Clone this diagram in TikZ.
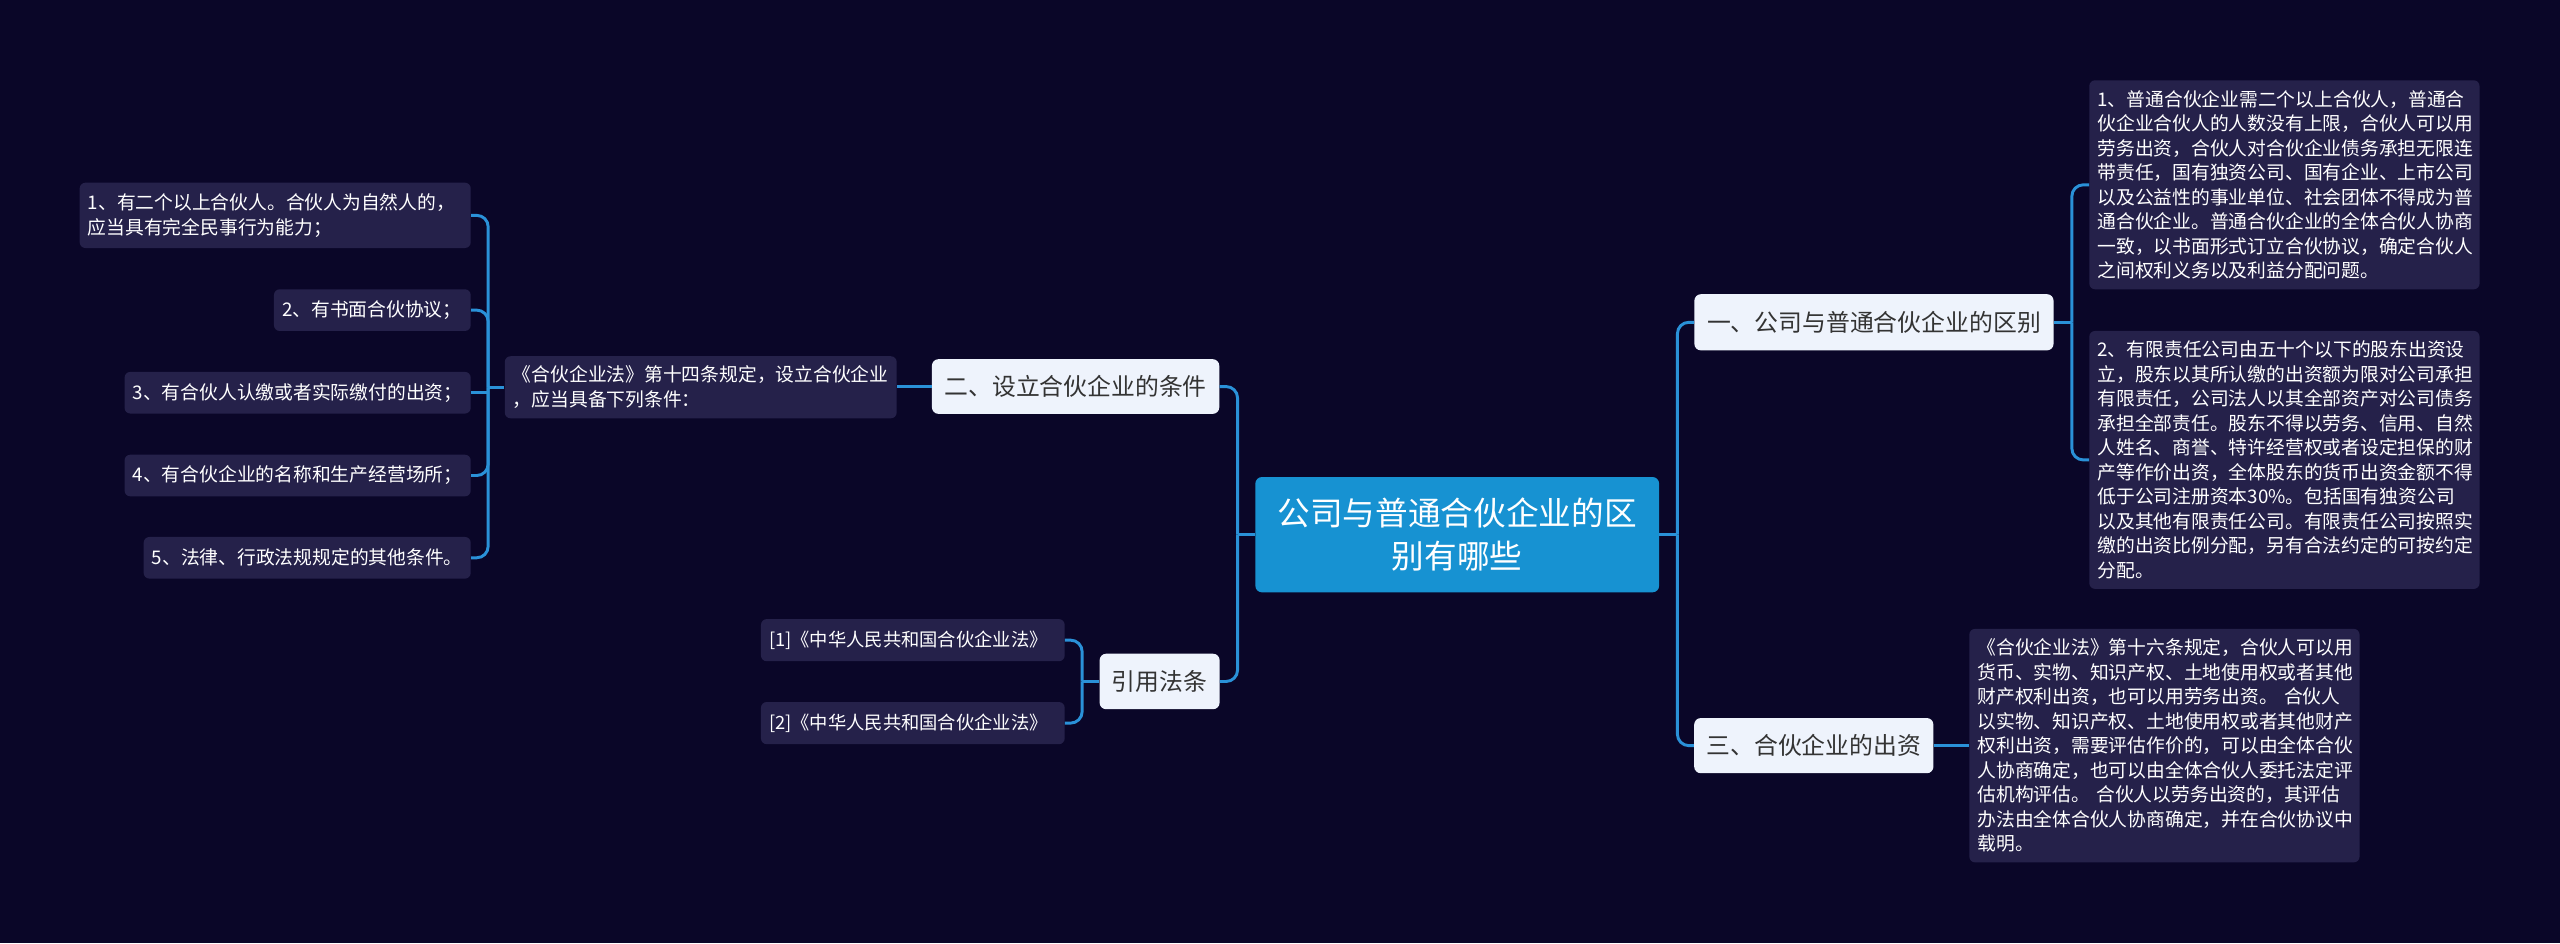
\documentclass[tikz,border=0pt]{standalone}
\usepackage{fontspec}
\setmainfont{Noto Sans CJK SC}
\definecolor{bg}{HTML}{0A0628}
\definecolor{leafc}{HTML}{25214A}
\definecolor{branchc}{HTML}{EEF3FC}
\definecolor{rootc}{HTML}{1792D2}
\definecolor{connc}{HTML}{2A91D8}
\definecolor{btext}{HTML}{333333}
\tikzset{
  leafbox/.style={fill=leafc, text=white, rounded corners=3.5pt, inner xsep=5pt, inner ysep=0pt,
    align=left, font=\fontsize{11.5}{15}\selectfont},
  branchbox/.style={fill=branchc, text=btext, rounded corners=4pt, inner xsep=7pt, inner ysep=0pt,
    align=center, font=\fontsize{14.6}{18}\selectfont},
  rootbox/.style={fill=rootc, text=white, rounded corners=4pt, inner xsep=12pt, inner ysep=0pt,
    align=center, font=\fontsize{20}{26}\selectfont},
  conn/.style={draw=connc, line width=1.8pt},
  elbow/.style={conn, rounded corners=7pt}
}
\begin{document}
\begin{tikzpicture}[x=1pt,y=-1pt]
\useasboundingbox (0,0) rectangle (1568,577.6);
\fill[bg] (0,0) rectangle (1568,577.6);

% root
\node[rootbox, anchor=north west, minimum width=247.3pt, minimum height=70.6pt, text width=223pt] (root) at (768.7,292)
  {公司与普通合伙企业的区\\别有哪些};

% branches
\node[branchbox, anchor=north west, minimum width=220pt, minimum height=34.4pt] (b1) at (1037.6,180) {一、公司与普通合伙企业的区别};
\node[branchbox, anchor=north west, minimum width=146.5pt, minimum height=33.8pt] (b3) at (1037.5,439.6) {三、合伙企业的出资};
\node[branchbox, anchor=north east, minimum width=176pt, minimum height=33.5pt] (b2) at (747,219.8) {二、设立合伙企业的条件};
\node[branchbox, anchor=north east, minimum width=73.5pt, minimum height=34pt] (cite) at (747.2,400.2) {引用法条};

% right leaves
\node[leafbox, anchor=north west, text width=229pt, minimum height=128pt] (r1) at (1279.5,49)
  {1、普通合伙企业需二个以上合伙人，普通合\\伙企业合伙人的人数没有上限，合伙人可以用\\劳务出资，合伙人对合伙企业债务承担无限连\\带责任，国有独资公司、国有企业、上市公司\\以及公益性的事业单位、社会团体不得成为普\\通合伙企业。普通合伙企业的全体合伙人协商\\一致，以书面形式订立合伙协议，确定合伙人\\之间权利义务以及利益分配问题。};
\node[leafbox, anchor=north west, text width=229pt, minimum height=158pt] (r2) at (1279.5,202.5)
  {2、有限责任公司由五十个以下的股东出资设\\立，股东以其所认缴的出资额为限对公司承担\\有限责任，公司法人以其全部资产对公司债务\\承担全部责任。股东不得以劳务、信用、自然\\人姓名、商誉、特许经营权或者设定担保的财\\产等作价出资，全体股东的货币出资金额不得\\低于公司注册资本30\%。包括国有独资公司\\以及其他有限责任公司。有限责任公司按照实\\缴的出资比例分配，另有合法约定的可按约定\\分配。};
\node[leafbox, anchor=north west, text width=229pt, minimum height=143pt] (r3) at (1206,385)
  {《合伙企业法》第十六条规定，合伙人可以用\\货币、实物、知识产权、土地使用权或者其他\\财产权利出资，也可以用劳务出资。 合伙人\\以实物、知识产权、土地使用权或者其他财产\\权利出资，需要评估作价的，可以由全体合伙\\人协商确定，也可以由全体合伙人委托法定评\\估机构评估。 合伙人以劳务出资的，其评估\\办法由全体合伙人协商确定，并在合伙协议中\\载明。};

% left leaves
\node[leafbox, anchor=north west, text width=230pt, minimum height=38pt] (k) at (309,218)
  {《合伙企业法》第十四条规定，设立合伙企业\\，应当具备下列条件：};
\node[leafbox, anchor=north east, text width=229.5pt, minimum height=40pt] (L1) at (288.5,111.7)
  {1、有二个以上合伙人。合伙人为自然人的，\\应当具有完全民事行为能力；};
\node[leafbox, anchor=north east, text width=110.5pt, minimum height=25.5pt] (L2) at (288.5,177)
  {2、有书面合伙协议；};
\node[leafbox, anchor=north east, text width=202pt, minimum height=25.5pt] (L3) at (288.5,227.6)
  {3、有合伙人认缴或者实际缴付的出资；};
\node[leafbox, anchor=north east, text width=202pt, minimum height=25.5pt] (L4) at (288.5,278.3)
  {4、有合伙企业的名称和生产经营场所；};
\node[leafbox, anchor=north east, text width=190.3pt, minimum height=25.5pt] (L5) at (288.5,328.7)
  {5、法律、行政法规规定的其他条件。};
\node[leafbox, anchor=north east, text width=176pt, minimum height=25.8pt, font=\fontsize{11.2}{15}\selectfont] (c1) at (652.3,379)
  {[1]《中华人民共和国合伙企业法》};
\node[leafbox, anchor=north east, text width=176pt, minimum height=25.8pt, font=\fontsize{11.2}{15}\selectfont] (c2) at (652.3,429.8)
  {[2]《中华人民共和国合伙企业法》};

% junction coordinates
\coordinate (rR) at ([xshift=11pt]root.east);
\coordinate (rL) at ([xshift=-10.7pt]root.west);
\coordinate (b1R) at ([xshift=11pt]b1.east);
\coordinate (kL) at ([xshift=-10pt]k.west);
\coordinate (cL) at ([xshift=-10.5pt]cite.west);

% connectors from root
\draw[conn] (root.east) -- (rR);
\draw[elbow] (rR) |- (b1.west);
\draw[elbow] (rR) |- (b3.west);
\draw[conn] (root.west) -- (rL);
\draw[elbow] (rL) |- (b2.east);
\draw[elbow] (rL) |- (cite.east);

% branch 1
\draw[conn] (b1.east) -- (b1R);
\draw[elbow] (b1R) |- (r1.west);
\draw[elbow] (b1R) |- (r2.west);

% branch 3
\draw[conn] (b3.east) -- (b3.east -| r3.west);

% branch 2
\draw[conn] (b2.west) -- (b2.west -| k.east);
\draw[conn] (k.west) -- (kL);
\draw[elbow] (kL) |- (L1.east);
\draw[elbow] (kL) |- (L2.east);
\draw[conn] (kL |- L3.east) -- (L3.east);
\draw[elbow] (kL) |- (L4.east);
\draw[elbow] (kL) |- (L5.east);

% cite
\draw[conn] (cite.west) -- (cL);
\draw[elbow] (cL) |- (c1.east);
\draw[elbow] (cL) |- (c2.east);
\end{tikzpicture}
\end{document}
